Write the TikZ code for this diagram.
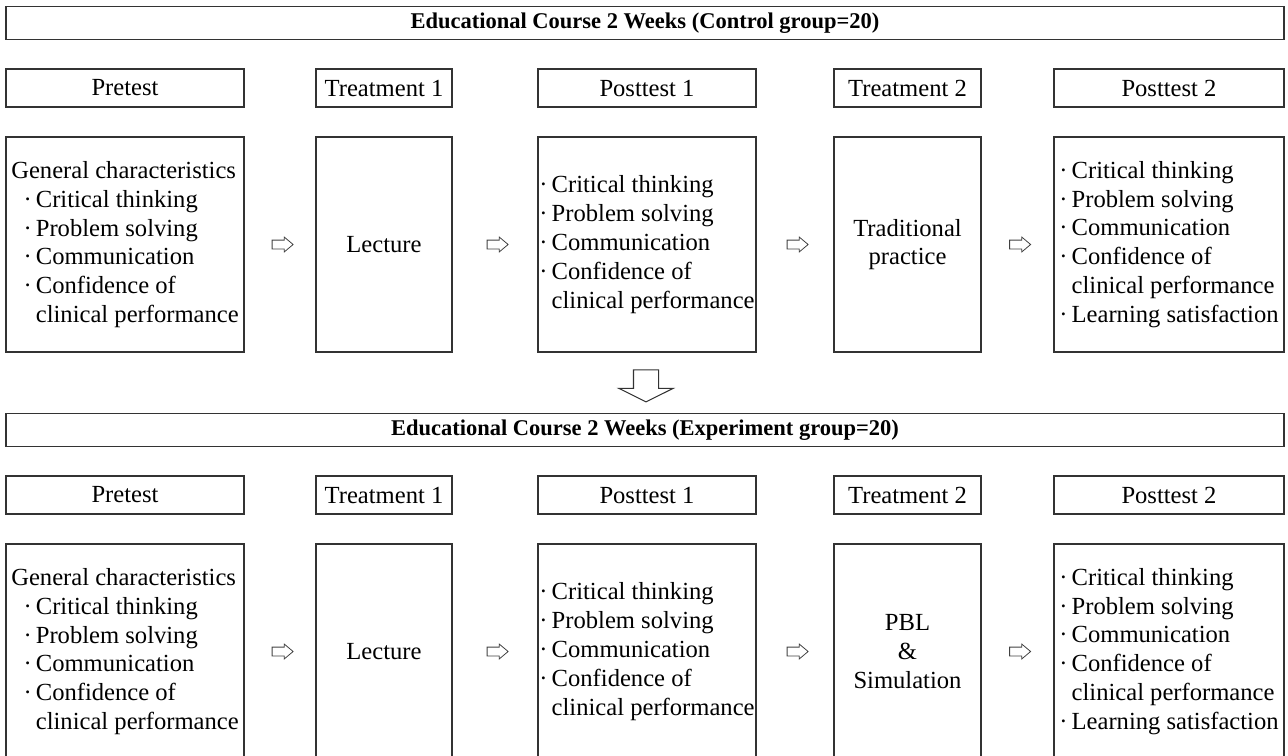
\documentclass[tikz,border=0pt]{standalone}
\usepackage{fontspec}
\setmainfont{Liberation Serif}
\usetikzlibrary{shapes.arrows, calc}

\newcommand{\itm}{\textperiodcentered\,}
\newcommand{\itmskip}{\hphantom{\textperiodcentered\,}}

\begin{document}
\begin{tikzpicture}[
  frame/.style={draw=black!80, line width=0.7pt},
  banner/.style={frame, minimum width=25.56cm, minimum height=0.66cm,
                 font=\fontsize{12.8}{14}\selectfont\bfseries},
  head/.style={frame, minimum height=0.76cm, font=\fontsize{14}{16.4}\selectfont},
  body/.style={frame, minimum height=4.3cm, align=left, inner sep=0pt,
               font=\fontsize{14}{16.4}\selectfont},
  flow/.style={draw=black!75, line width=0.45pt, single arrow,
               single arrow head extend=0.06cm, single arrow tip angle=80,
               minimum height=0.42cm, inner xsep=0pt, inner ysep=0.08cm}
]
  \useasboundingbox (0,0) rectangle (25.76,-15.1);
  \clip (0,0) rectangle (25.76,-15.1);

  % one block per group
  \foreach \g/\y/\grp/\trt in {c/0/Control/{Traditional\\practice},
                                e/-8.14/Experiment/{PBL\\\&\\Simulation}}{
    \begin{scope}[yshift=\y cm]
      \node[banner] (banner\g) at (12.9,-0.46) {Educational Course 2 Weeks (\grp{} group=20)};

      \node[head, minimum width=4.76cm] (hpre\g)   at (2.5,-1.76)   {Pretest};
      \node[head, minimum width=2.72cm] (htrtA\g)  at (7.68,-1.76)  {Treatment 1};
      \node[head, minimum width=4.36cm] (hpostA\g) at (12.94,-1.76) {Posttest 1};
      \node[head, minimum width=2.94cm] (htrtB\g)  at (18.15,-1.76) {Treatment 2};
      \node[head, minimum width=4.6cm]  (hpostB\g) at (23.38,-1.76) {Posttest 2};

      \node[body, minimum width=4.76cm] (pre\g) at (2.5,-4.89)
        {General characteristics\\
         \hspace*{0.5em}\itm Critical thinking\\
         \hspace*{0.5em}\itm Problem solving\\
         \hspace*{0.5em}\itm Communication\\
         \hspace*{0.5em}\itm Confidence of\\
         \hspace*{0.5em}\itmskip clinical performance};
      \node[body, minimum width=2.72cm, align=center] (trtA\g) at (7.68,-4.89) {Lecture};
      \node[body, minimum width=4.36cm] (postA\g) at (12.94,-4.89)
        {\itm Critical thinking\\
         \itm Problem solving\\
         \itm Communication\\
         \itm Confidence of\\
         \itmskip clinical performance};
      \node[body, minimum width=2.94cm, align=center] (trtB\g) at (18.15,-4.89) {\trt};
      \node[body, minimum width=4.6cm] (postB\g) at (23.38,-4.89)
        {\itm Critical thinking\\
         \itm Problem solving\\
         \itm Communication\\
         \itm Confidence of\\
         \itmskip clinical performance\\
         \itm Learning satisfaction};

      \node[flow] (fA\g) at ($(pre\g.east)!0.5!(trtA\g.west)$) {};
      \node[flow] (fB\g) at ($(trtA\g.east)!0.5!(postA\g.west)$) {};
      \node[flow] (fC\g) at ($(postA\g.east)!0.5!(trtB\g.west)$) {};
      \node[flow] (fD\g) at ($(trtB\g.east)!0.5!(postB\g.west)$) {};
    \end{scope}
  }

  % from control to experiment
  \node[draw=black!80, line width=0.6pt, single arrow, rotate=-90,
        single arrow head extend=0.29cm, single arrow tip angle=127,
        minimum height=0.64cm, inner xsep=0pt, inner ysep=0.24cm]
        (down) at ($(postAc.south)!0.5!(bannere.north)$) {};
\end{tikzpicture}
\end{document}
